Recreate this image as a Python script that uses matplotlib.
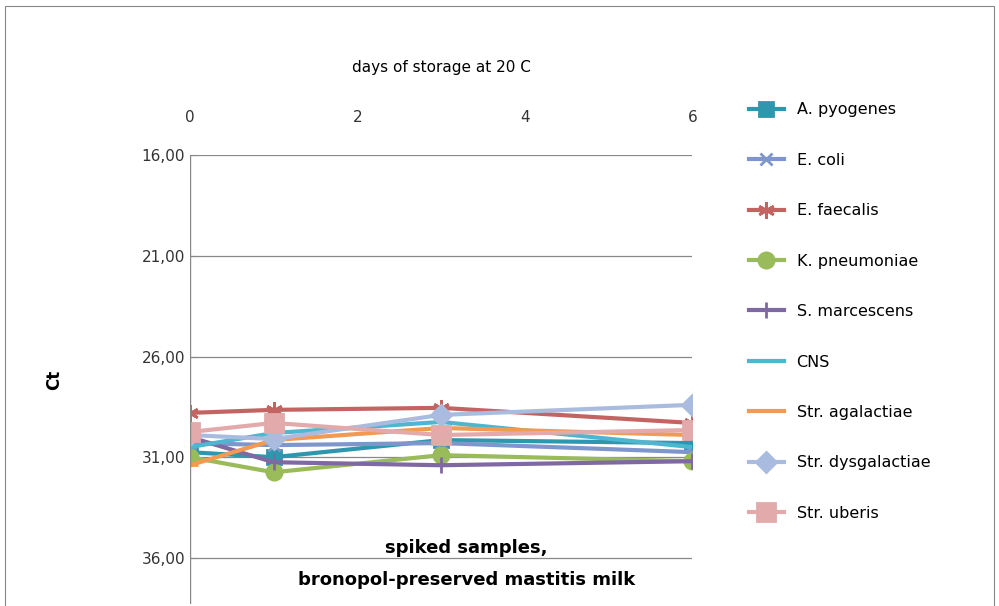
import matplotlib.pyplot as plt

days = [0, 1, 3, 6]
names = ['A. pyogenes', 'E. coli', 'E. faecalis', 'K. pneumoniae', 'S. marcescens',
         'CNS', 'Str. agalactiae', 'Str. dysgalactiae', 'Str. uberis']
a_pyogenes = [30.75, 31.0, 30.15, 30.3]
e_coli = [30.3, 30.4, 30.3, 30.75]
e_faecalis = [28.8, 28.65, 28.55, 29.3]
k_pneumoniae = [31.0, 31.75, 30.9, 31.2]
s_marcescens = [30.0, 31.25, 31.4, 31.2]
cns = [30.5, 29.8, 29.25, 30.5]
str_agalactiae = [31.4, 30.15, 29.55, 29.9]
str_dysgalactiae = [29.9, 30.1, 28.9, 28.4]
str_uberis = [29.75, 29.3, 29.9, 29.65]
series = [a_pyogenes, e_coli, e_faecalis, k_pneumoniae, s_marcescens,
          cns, str_agalactiae, str_dysgalactiae, str_uberis]

colors = ['#2e96ad', '#7f96cc', '#c46462', '#99bb5a', '#8068a3',
          '#4fb6cf', '#f39a52', '#a9bcdf', '#e2aaaa']
markers = ['s', 'x', (6, 2, 0), 'o', '+', None, '_', 'D', 's']
sizes = [10, 9, 12, 11, 12, 0, 12, 10, 13]

fig = plt.figure(figsize=(9.99, 6.06), dpi=100)
fig.patches.append(plt.Rectangle((0.005, -0.1), 0.99, 1.09, transform=fig.transFigure,
                                 fill=False, edgecolor='#888888', lw=0.8))
ax = fig.add_axes([0.19, 0.003, 0.503, 0.741])
for s, n, c, m, ms in zip(series, names, colors, markers, sizes):
    ax.plot(days, s, color=c, lw=3, marker=m, markersize=ms, markeredgewidth=2,
            label=n)

ax.set_xlim(0, 6)
ax.set_ylim(38.3, 16)
ax.set_yticks([16, 21, 26, 31, 36])
ax.set_yticklabels(['16,00', '21,00', '26,00', '31,00', '36,00'], fontsize=11, color='#333333')
ax.set_xticks([0, 2, 4, 6])
ax.xaxis.tick_top()
ax.xaxis.set_label_position('top')
ax.tick_params(axis='x', length=0, pad=22, labelsize=11, colors='#333333')
ax.tick_params(axis='y', direction='in', length=5, colors='#888888', labelcolor='#333333')
ax.grid(axis='y', color='#888888', lw=0.9)
for sp in ['right', 'bottom', 'left', 'top']:
    ax.spines[sp].set_visible(False)
ax.axvline(0, color='#888888', lw=1)
ax.set_xlabel('days of storage at 20 C', fontsize=11, labelpad=27)
ax.set_ylabel('Ct', fontsize=12, fontweight='bold', labelpad=56)
ax.text(3.3, 36.3, 'spiked samples,\nbronopol-preserved mastitis milk', ha='center',
        va='center', fontsize=13, fontweight='bold', linespacing=2.0)

fig.legend(loc='upper left', bbox_to_anchor=(0.735, 0.855), frameon=False,
           fontsize=11.5, labelspacing=2.22, handlelength=2.2)
fig.savefig('out.png', dpi=100)
